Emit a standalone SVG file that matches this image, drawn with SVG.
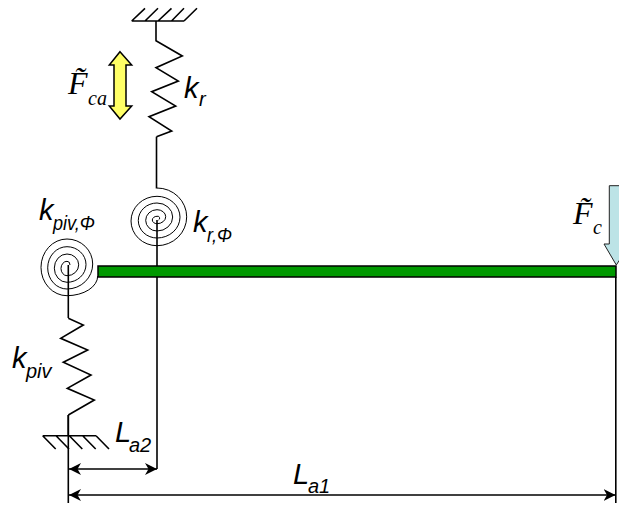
<svg xmlns="http://www.w3.org/2000/svg" width="619" height="507" viewBox="0 0 619 507">
<style>
.l{fill:none;stroke:#000;stroke-width:1.6;stroke-linejoin:miter}
.s{fill:none;stroke:#000;stroke-width:1}
.sa{font-family:"Liberation Sans",Arial,sans-serif;font-style:italic;fill:#000}
.se{font-family:"Liberation Serif","Times New Roman",serif;font-style:italic;fill:#000}
.m{font-size:29px}
.b{font-size:20px}
.f{font-size:32px}
.g{font-size:20px}
</style>
<defs>
<marker id="ah" markerUnits="userSpaceOnUse" markerWidth="14" markerHeight="12" refX="12" refY="6" orient="auto-start-reverse"><path d="M0 0L12 6L0 12L3.5 6Z" fill="#000"/></marker>
</defs>
<rect width="619" height="507" fill="#fff"/>
<g id="connectors">
<path class="l" d="M157 220V469"/>
<path class="l" d="M68.3 415V503"/>
<path class="l" d="M68.3 265V318"/>
<path class="l" d="M615.8 277V503"/>
<path class="l" d="M156.5 136.7V188.5"/>
<path class="l" d="M69 469H157" marker-start="url(#ah)" marker-end="url(#ah)"/>
<path class="l" d="M69 495H615.5" marker-start="url(#ah)" marker-end="url(#ah)"/>
</g>
<g id="ground-top">
<path class="l" d="M131.7 21H184M131.7 21L145 8.3M145 21L158 8.3M158 21L171.5 8.3M171.5 21L184 8.3M184 21L197 8.3"/>
</g>
<g id="spring-r">
<path class="l" d="M156 21V40.7L182.3 56L156 67.7L178.3 81L151.7 91.7L175.7 106L149 116.7L171.7 131L156.5 136.7"/>
</g>
<g id="spiral-r">
<path class="s" d="M157 188A29.7 28.85 0 0 1 157 245.7A26 24.7 0 0 1 157 196.3A23 20.85 0 0 1 157 238A18.7 17.5 0 0 1 157 203A15.7 14 0 0 1 157 231A11.3 10.65 0 0 1 157 209.7A8.7 7 0 0 1 157 223.7A4.7 3.7 0 0 1 157 216.3A2 2 0 0 1 158.5 220"/>
</g>
<g id="spiral-piv">
<path class="s" d="M97.7 276A31 19.7 0 0 1 67 295.7A26 28.35 0 0 1 67 239A25.7 25 0 0 1 67 289A19.3 21.15 0 0 1 67 246.7A19 17.8 0 0 1 67 282.3A12.7 14.15 0 0 1 67 254A11.7 10.85 0 0 1 67 275.7A6 7.2 0 0 1 67 261.3A3 3.7 0 0 1 70 265"/>
</g>
<g id="spring-piv">
<path class="l" d="M68.3 318.3L83.3 325L60.7 338.3L87.7 350L63.3 362.3L91 375L67.3 388.3L94.3 400L68.3 415"/>
</g>
<g id="ground-piv">
<path class="l" d="M68.3 415V436M42.7 435.7H96M42.7 435.7L55.7 449M56 435.7L69 449M69.3 435.7L82.3 449M82.7 435.7L95.7 449M96 435.7L109 449"/>
</g>
<g id="beam">
<rect x="98" y="266" width="518" height="11" fill="#009900" stroke="#000" stroke-width="1.5"/>
</g>
<g id="force-ca">
<path d="M120 51.7L131.7 65H126V106H131.7L120 119L109.3 106H114V65H109.3Z" fill="#ffff66" stroke="#000" stroke-width="1.5"/>
</g>
<g id="force-c">
<path d="M609.3 185.7H625V244H630L616.3 265L604 244H609.3Z" fill="#bce3e6" stroke="#222" stroke-width="1"/>
</g>
<g id="labels">
<text class="se f" x="68" y="94">F̃</text><text class="se g" x="88" y="105">ca</text>
<text class="se f" x="573" y="224">F̃</text><text class="se g" x="593" y="234">c</text>
<text class="sa m" x="184" y="98">k</text><text class="sa b" x="199" y="106">r</text>
<text class="sa m" x="39" y="220">k</text><text class="sa b" x="53" y="230" textLength="42" lengthAdjust="spacingAndGlyphs">piv,Φ</text>
<text class="sa m" x="193" y="232">k</text><text class="sa b" x="207" y="242" textLength="25" lengthAdjust="spacingAndGlyphs">r,Φ</text>
<text class="sa m" x="12" y="368">k</text><text class="sa b" x="26" y="378">piv</text>
<text class="sa m" x="115" y="442">L</text><text class="sa b" x="129" y="452">a2</text>
<text class="sa m" x="293" y="484">L</text><text class="sa b" x="308" y="493">a1</text>
</g>
</svg>
